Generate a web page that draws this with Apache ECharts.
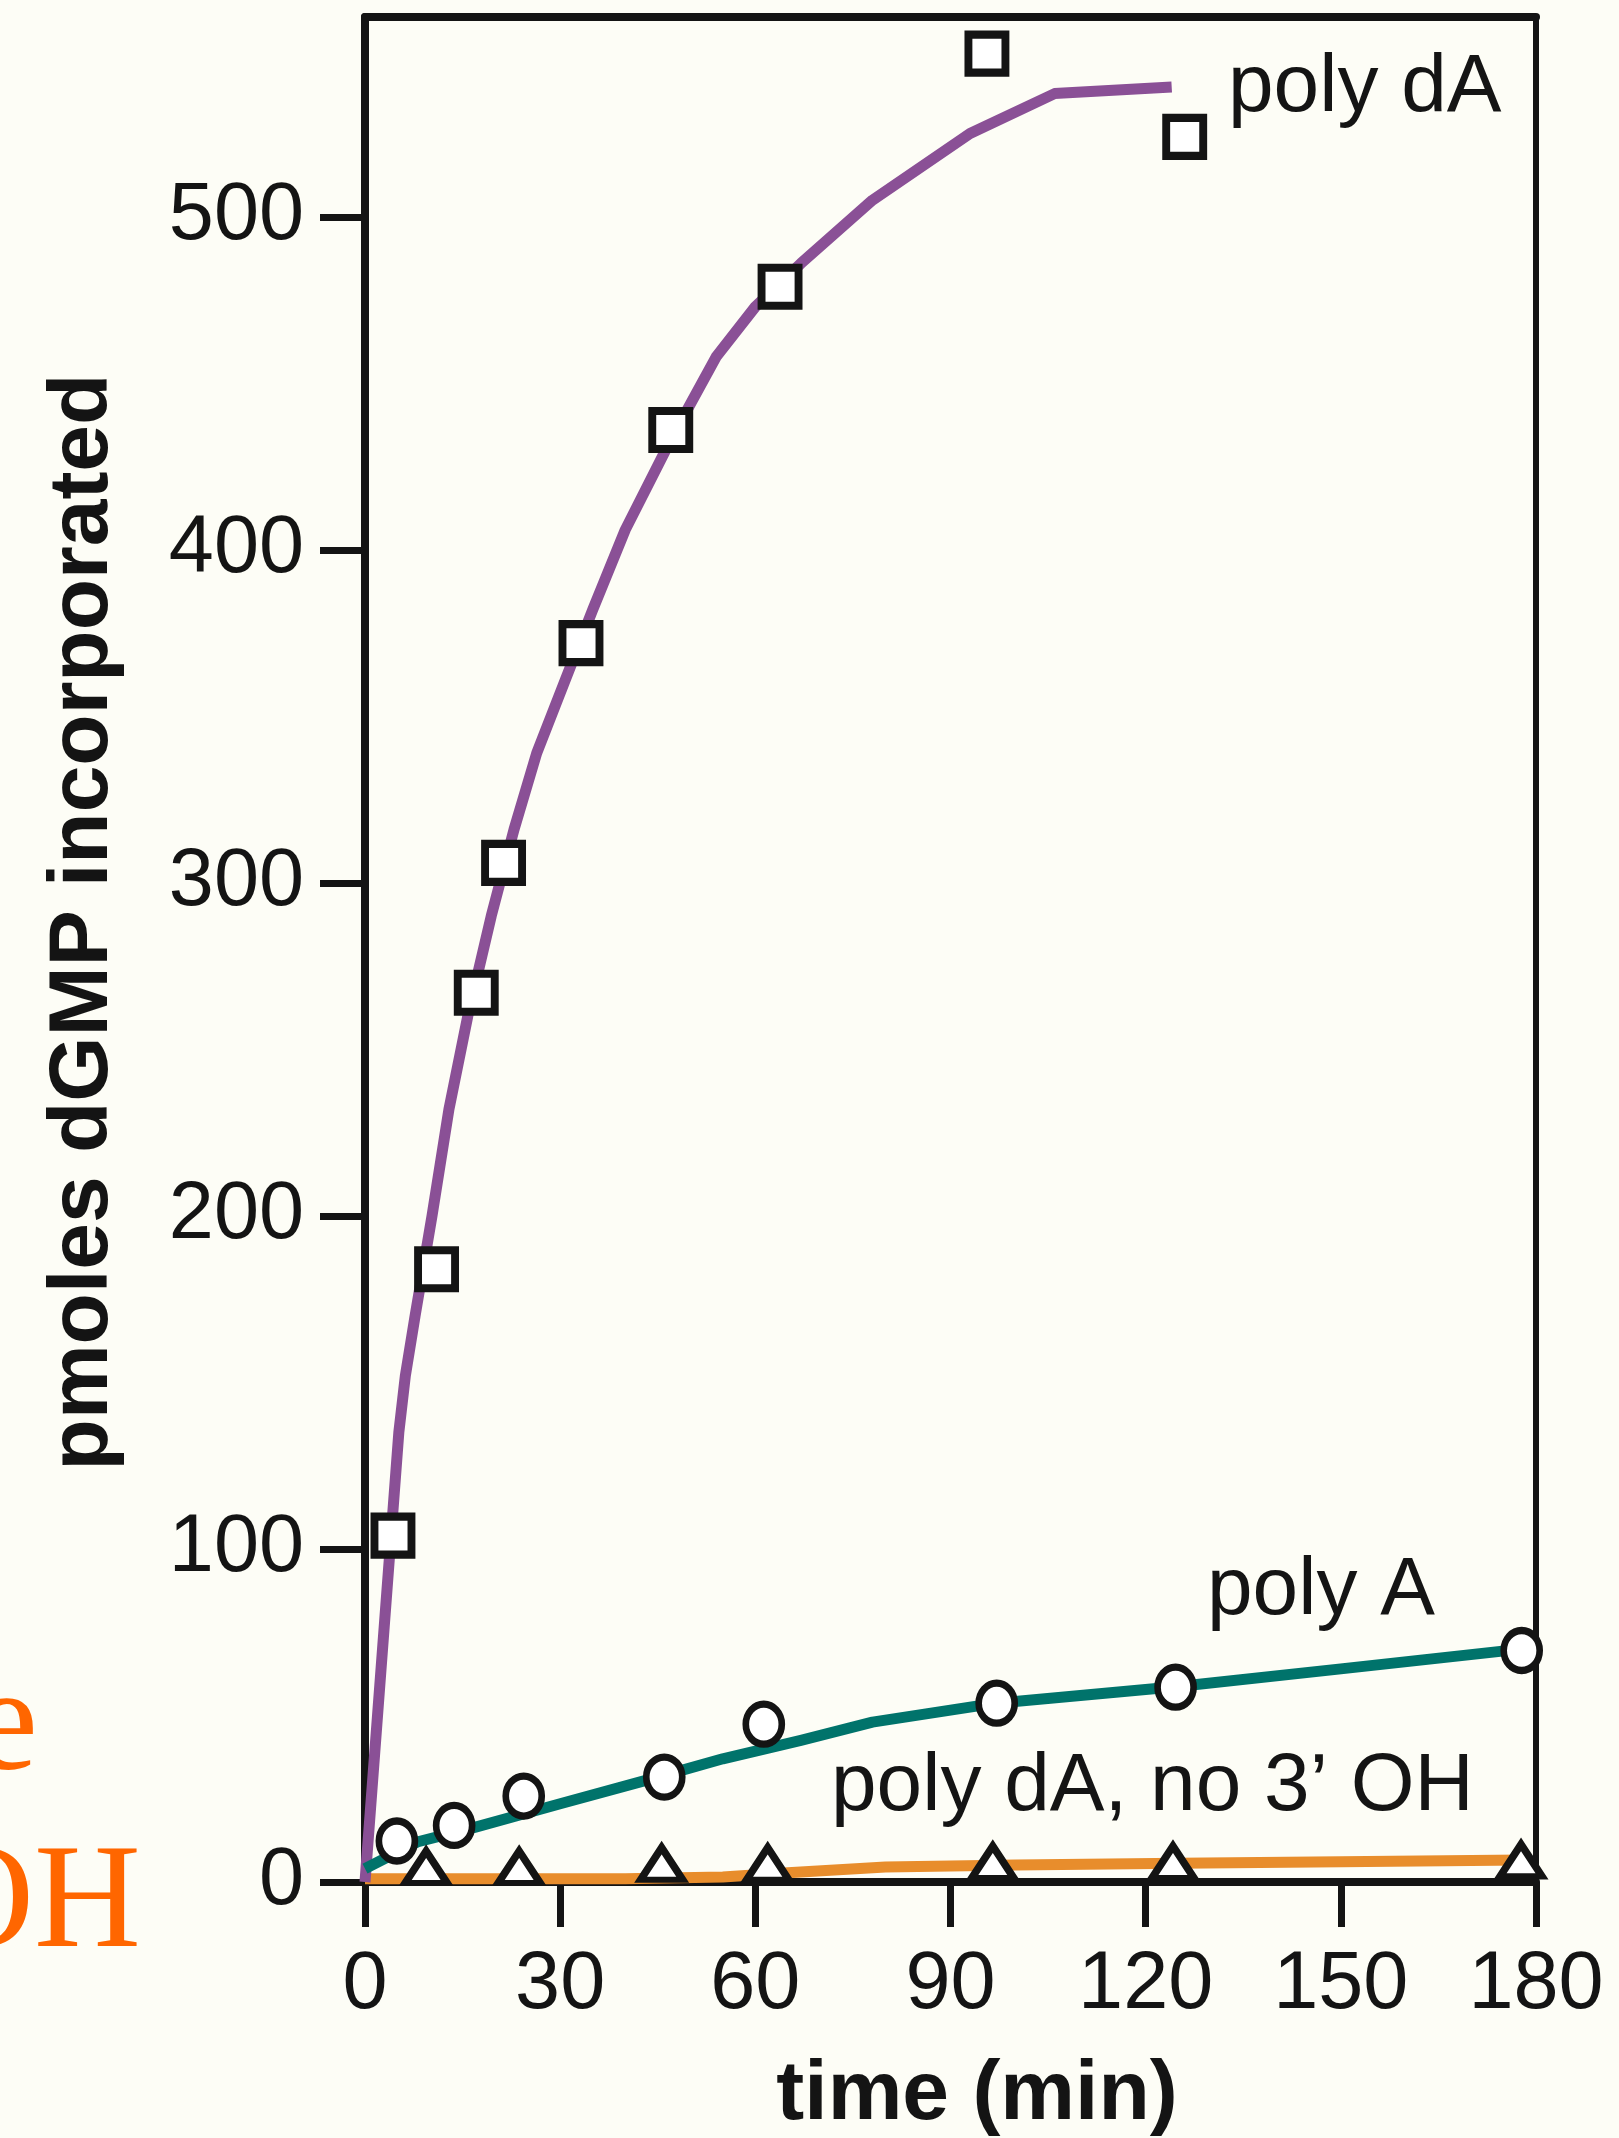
<!DOCTYPE html>
<html>
<head>
<meta charset="utf-8">
<script src="https://cdn.jsdelivr.net/npm/echarts@6/dist/echarts.min.js"></script>
<style>
html,body{margin:0;padding:0;background:#fdfdf6;}
#chart{width:1619px;height:2138px;}
</style>
</head>
<body>
<div id="chart"></div>
<script>
// ---- tick labels ----
const timeTicks = [0, 30, 60, 90, 120, 150, 180];
const valueTicks = [0, 100, 200, 300, 400, 500];

// ---- measured points ----
const polyDA_time  = [4.3, 11, 17.1, 21.3, 33.2, 47, 63.8, 95.6, 126];
const polyDA_value = [104, 184, 267, 306, 372, 436, 479, 549, 524];

const polyA_time  = [4.9, 13.7, 24.4, 46, 61.3, 97.1, 124.6, 177.8];
const polyA_value = [12.3, 17, 25.8, 31.5, 47.4, 53.7, 58.5, 69.5];

const noOH_time  = [9.4, 23.7, 45.6, 61.9, 96.5, 124.2, 177.7];
const noOH_value = [4.5, 4.5, 5.5, 5.5, 6, 6, 6.5];

// ---- fitted curves ----
const polyDAFit_time  = [0, 5.2, 6.2, 7.7, 10.3, 12.9, 15.8, 19.4, 22.9, 26.4, 29.4, 35, 40, 47, 54, 60, 67, 78, 93, 106, 124];
const polyDAFit_value = [0, 135, 152, 170, 200, 232, 260, 290, 316, 339, 354, 382, 406, 433, 458, 473, 486, 505, 525, 537, 539];

const polyAFit_time  = [0, 8, 17, 30, 45, 55, 67, 78, 97, 125, 150, 178];
const polyAFit_value = [4, 12, 16.5, 23.5, 31.5, 37, 42.5, 48, 53.7, 58.7, 64, 70];

const noOHFit_time  = [0, 40, 55, 65, 80, 100, 125, 150, 178];
const noOHFit_value = [1, 1, 1.5, 2.8, 4.5, 5.1, 5.6, 6.1, 6.6];

// ---- labels ----
const yTitle = 'pmoles dGMP incorporated';
const xTitle = 'time (min)';
const seriesNames = ['poly dA', 'poly A', 'poly dA, no 3\u2019 OH'];
const bgFragments = ['e', 'OH'];

const zip = (a, b) => a.map((v, i) => [v, b[i]]);

const INK = '#141414';
const PURPLE = '#8a5096';
const TEAL = '#00736b';
const ORANGE = '#e88d2c';

const chart = echarts.init(document.getElementById('chart'), null, {renderer: 'canvas'});

const tickFont = {fontFamily: 'Liberation Sans', fontSize: 81, color: INK};

const option = {
  backgroundColor: '#fdfdf6',
  animation: false,
  grid: {left: 365, right: 83, top: 17, bottom: 256, containLabel: false, outerBoundsMode: 'none'},
  xAxis: [
    {
      type: 'value', min: 0, max: 180, interval: 30, position: 'bottom',
      axisLine: {show: true, onZero: false, lineStyle: {color: INK, width: 8}},
      axisTick: {show: true, inside: false, length: 45, lineStyle: {color: INK, width: 7}, customValues: timeTicks},
      axisLabel: Object.assign({margin: 63, customValues: timeTicks}, tickFont),
      splitLine: {show: false}
    },
    {
      type: 'value', min: 0, max: 180, position: 'top',
      axisLine: {show: true, onZero: false, lineStyle: {color: INK, width: 8}},
      axisTick: {show: false}, axisLabel: {show: false}, splitLine: {show: false}
    }
  ],
  yAxis: [
    {
      type: 'value', min: 0, max: 560, interval: 100, position: 'left',
      axisLine: {show: true, onZero: false, lineStyle: {color: INK, width: 8}},
      axisTick: {show: true, inside: false, length: 45, lineStyle: {color: INK, width: 7}, customValues: valueTicks},
      axisLabel: Object.assign({margin: 61, customValues: valueTicks}, tickFont),
      splitLine: {show: false}
    },
    {
      type: 'value', min: 0, max: 560, position: 'right',
      axisLine: {show: true, onZero: false, lineStyle: {color: INK, width: 6}},
      axisTick: {show: false}, axisLabel: {show: false}, splitLine: {show: false}
    }
  ],
  series: [
    {type: 'line', name: seriesNames[0] + ' fit', data: zip(polyDAFit_time, polyDAFit_value), showSymbol: false, symbol: 'none',
     lineStyle: {color: PURPLE, width: 11, join: 'round'}, z: 2, clip: false},
    {type: 'line', name: seriesNames[1] + ' fit', data: zip(polyAFit_time, polyAFit_value), showSymbol: false, symbol: 'none',
     lineStyle: {color: TEAL, width: 11, join: 'round'}, z: 2, clip: false},
    {type: 'line', name: seriesNames[2] + ' fit', data: zip(noOHFit_time, noOHFit_value), showSymbol: false, symbol: 'none',
     lineStyle: {color: ORANGE, width: 11, join: 'round'}, z: 1, clip: false},
    {type: 'scatter', name: seriesNames[0], data: zip(polyDA_time, polyDA_value), symbol: 'rect', symbolSize: [37, 38],
     itemStyle: {color: '#ffffff', borderColor: INK, borderWidth: 8, opacity: 1}, z: 4, clip: false},
    {type: 'scatter', name: seriesNames[1], data: zip(polyA_time, polyA_value), symbol: 'circle', symbolSize: [36, 40],
     itemStyle: {color: '#ffffff', borderColor: INK, borderWidth: 7, opacity: 1}, z: 4, clip: false},
    {type: 'scatter', name: seriesNames[2], data: zip(noOH_time, noOH_value), symbol: 'triangle', symbolSize: [42, 32],
     itemStyle: {color: '#ffffff', borderColor: INK, borderWidth: 7, opacity: 1}, z: 4, clip: false}
  ],
  graphic: [
    {type: 'text', x: 84, y: 922, rotation: Math.PI / 2, z: 10,
     style: {text: yTitle, x: 0, y: 0, textAlign: 'center', textVerticalAlign: 'middle',
             font: 'bold 84px "Liberation Sans"', fill: INK}},
    {type: 'text', x: 977, y: 2096, z: 10,
     style: {text: xTitle, x: 0, y: 0, textAlign: 'center', textVerticalAlign: 'middle',
             font: 'bold 84px "Liberation Sans"', fill: INK}},
    {type: 'text', x: 1228, y: 88, z: 10,
     style: {text: seriesNames[0], textAlign: 'left', textVerticalAlign: 'middle',
             font: '82px "Liberation Sans"', fill: INK}},
    {type: 'text', x: 1207, y: 1591, z: 10,
     style: {text: seriesNames[1], textAlign: 'left', textVerticalAlign: 'middle',
             font: '82px "Liberation Sans"', fill: INK}},
    {type: 'text', x: 831, y: 1787, z: 10,
     style: {text: seriesNames[2], textAlign: 'left', textVerticalAlign: 'middle',
             font: '82px "Liberation Sans"', fill: INK}},
    {type: 'text', x: 38, y: 1781 - 0.3465 * 148, z: 10,
     style: {text: bgFragments[0], textAlign: 'right', textVerticalAlign: 'middle',
             font: '148px "Liberation Serif"', fill: '#ff6600'}},
    {type: 'text', x: 141, y: 1958 - 0.3465 * 148, z: 10,
     style: {text: bgFragments[1], textAlign: 'right', textVerticalAlign: 'middle',
             font: '148px "Liberation Serif"', fill: '#ff6600'}}
  ]
};

chart.setOption(option);
</script>
</body>
</html>
